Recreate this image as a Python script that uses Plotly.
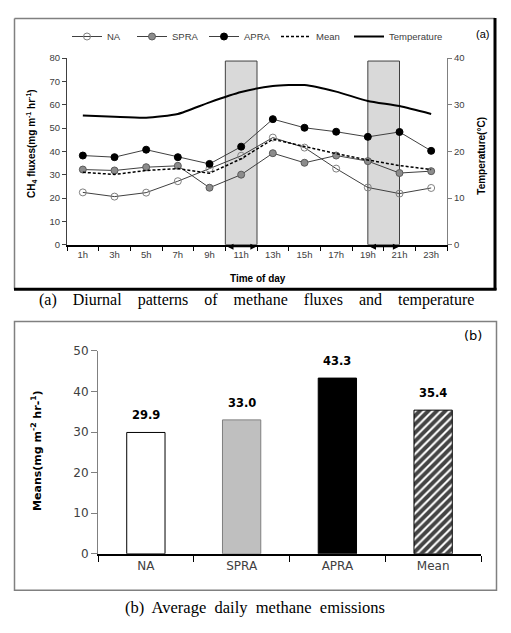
import plotly.graph_objects as go

# ---------------- data ----------------
hours = ["1h", "3h", "5h", "7h", "9h", "11h", "13h", "15h", "17h", "19h", "21h", "23h"]
na_flux = [22.4, 20.6, 22.3, 27.2, 32.6, 38.1, 45.9, 41.6, 32.6, 24.5, 21.9, 24.3]
spra_flux = [32.2, 31.8, 33.2, 33.8, 24.4, 30.0, 39.2, 35.1, 38.2, 35.8, 30.7, 31.5]
apra_flux = [38.2, 37.5, 40.7, 37.5, 34.6, 42.0, 53.8, 50.1, 48.4, 46.2, 48.3, 40.2]
mean_flux = [31.0, 30.1, 31.8, 32.6, 30.6, 36.8, 45.2, 42.0, 39.0, 36.3, 33.9, 32.2]
temperature = [27.7, 27.4, 27.2, 28.0, 30.5, 32.7, 34.0, 34.2, 32.8, 30.8, 29.7, 28.0]
shade_windows = [(10, 12), (19, 21)]  # hours

bar_cats = ["NA", "SPRA", "APRA", "Mean"]
bar_vals = [29.9, 33.0, 43.3, 35.4]

# The page body has an 8px margin: size the figure so the page fits the window exactly
OFF = 8
W, H = 511 - 2 * OFF, 633 - 2 * OFF
def px(x):
    return (x - OFF) / W
def py(y):
    return 1 - (y - OFF) / H

SANS = "Liberation Sans, Arial"
DV = "DejaVu Sans, Verdana"
SERIF = "Liberation Serif, Times New Roman, serif"

fig = go.Figure()

line_col = "#404040"
series = [
    ("NA", na_flux, dict(symbol="circle-open", size=7, color="#808080", line=dict(width=1, color="#808080")), "legend"),
    ("SPRA", spra_flux, dict(symbol="circle", size=7, color="#8c8c8c", line=dict(width=1, color="#5a5a5a")), "legend2"),
    ("APRA", apra_flux, dict(symbol="circle", size=7, color="black", line=dict(width=1, color="black")), "legend3"),
]
for name, vals, mk, lg in series:
    fig.add_trace(go.Scatter(x=hours, y=vals, name=name, mode="lines+markers",
                             line=dict(color=line_col, width=1), marker=mk,
                             xaxis="x", yaxis="y", legend=lg))
fig.add_trace(go.Scatter(x=hours, y=mean_flux, name="Mean", mode="lines",
                         line=dict(color="black", width=1.5, dash="3px,2px"),
                         xaxis="x", yaxis="y", legend="legend4"))
fig.add_trace(go.Scatter(x=hours, y=temperature, name="Temperature", mode="lines",
                         line=dict(color="black", width=2, shape="spline", smoothing=0.6),
                         xaxis="x", yaxis="y2", legend="legend5"))

# bar chart
fig.add_trace(go.Bar(x=bar_cats, y=bar_vals, width=0.4, showlegend=False,
                     marker=dict(color=["white", "#bfbfbf", "black", "white"],
                                 line=dict(color=["black", "#7f7f7f", "black", "black"], width=1),
                                 pattern=dict(shape=["", "", "", "/"], fgcolor="black", fgopacity=1,
                                              bgcolor="white", size=6, solidity=0.65)),
                     xaxis="x2", yaxis="y3"))

shapes = []
annotations = []
# shaded windows
for h0, h1 in shade_windows:
    i0 = (h0 - 1) / 2
    i1 = (h1 - 1) / 2
    shapes.append(dict(type="rect", xref="x", yref="y", x0=i0, x1=i1, y0=0, y1=78.7,
                       fillcolor="#d9d9d9", line=dict(color="#404040", width=1), layer="below"))
    annotations.append(dict(xref="x", yref="y", axref="x", ayref="y", x=i1 - 0.02, y=0, ax=i0 + 0.02, ay=0,
                            text="", showarrow=True, arrowhead=2, arrowside="end+start",
                            arrowsize=1, arrowwidth=1.2, arrowcolor="black", yshift=-2))

# panel frames
shapes += [
    dict(type="line", xref="paper", yref="paper", x0=px(14.5), x1=px(495), y0=py(11.5), y1=py(11.5),
         line=dict(color="#808080", width=1.5)),
    dict(type="line", xref="paper", yref="paper", x0=px(14.5), x1=px(14.5), y0=py(11.5), y1=py(288.5),
         line=dict(color="#808080", width=1.5)),
    dict(type="line", xref="paper", yref="paper", x0=px(495), x1=px(495), y0=py(11), y1=py(289.5),
         line=dict(color="black", width=3)),
    dict(type="line", xref="paper", yref="paper", x0=px(14), x1=px(496.5), y0=py(288.5), y1=py(288.5),
         line=dict(color="black", width=3)),
    dict(type="rect", xref="paper", yref="paper", x0=px(14.5), x1=px(496.5), y0=py(321.5), y1=py(596.5),
         line=dict(color="#808080", width=1.5)),
]

for c, v in zip(bar_cats, bar_vals):
    annotations.append(dict(xref="x2", yref="y3", x=c, y=v, text=f"<b>{v:.1f}</b>", showarrow=False,
                            xanchor="center", yanchor="bottom", yshift=8,
                            font=dict(family=DV, size=11.5, color="black")))

def label(x, y, text, font, angle=0):
    return dict(xref="paper", yref="paper", x=px(x), y=py(y), text=text, showarrow=False,
                xanchor="center", yanchor="middle", textangle=angle, font=font)

annotations += [
    label(31, 140, "<b>CH<sub>4</sub> fluxes(mg m<sup>-1</sup> hr<sup>-1</sup>)</b>",
          dict(family=SANS, size=10, color="black"), -90),
    label(482, 152, "<b>Temperature(°C)</b>", dict(family=SANS, size=10, color="black"), -90),
    label(258, 278, "<b>Time of day</b>", dict(family=SANS, size=10, color="black")),
    label(482, 27, "(a)", dict(family=SANS, size=11, color="black")),
    label(473, 336, "(b)", dict(family=DV, size=13, color="black")),
    label(37, 454, "<b>Means(mg m<sup>-2</sup> hr-<sup>1</sup>)</b>", dict(family=DV, size=11, color="black"), -90),
    label(256, 300, "(a)\u00a0\u00a0\u00a0 Diurnal\u00a0\u00a0\u00a0 patterns\u00a0\u00a0\u00a0 of\u00a0\u00a0\u00a0 methane\u00a0\u00a0\u00a0 fluxes\u00a0\u00a0\u00a0 and\u00a0\u00a0\u00a0 temperature",
          dict(family=SERIF, size=16, color="black")),
    label(255, 614, "(b)\u00a0 Average\u00a0 daily\u00a0 methane\u00a0 emissions",
          dict(family=SERIF, size=16.5, color="black")),
]

legend_font = dict(family=SANS, size=9.5, color="#404040")
leg_text_x = [107, 172, 244, 316, 389]
legends = {}
for i, tx in enumerate(leg_text_x):
    key = "legend" if i == 0 else f"legend{i+1}"
    legends[key] = dict(x=px(tx - 40), y=py(30), xanchor="left", yanchor="middle",
                        orientation="h", font=legend_font, bgcolor="rgba(0,0,0,0)",
                        borderwidth=0, itemwidth=30, tracegroupgap=0)

tick_font_top = dict(family=SANS, size=9.5, color="#404040")
tick_font_bot = dict(family=DV, size=12, color="#404040")

fig.update_layout(
    width=W, height=H, margin=dict(l=0, r=0, t=0, b=0),
    paper_bgcolor="white", plot_bgcolor="white",
    showlegend=True,
    shapes=shapes, annotations=annotations,
    xaxis=dict(domain=[px(67), px(447)], anchor="y", type="category", range=[-0.5, 11.5],
               tickson="boundaries", ticks="outside", ticklen=5, tickcolor="black",
               showline=True, linecolor="black", linewidth=1.5, showgrid=False,
               tickfont=tick_font_top, zeroline=False),
    yaxis=dict(domain=[py(243), py(52)], anchor="x", range=[0, 80], dtick=10,
               ticks="outside", ticklen=4, tickcolor="#404040", showline=True,
               linecolor="#404040", linewidth=1, showgrid=False, zeroline=False,
               tickfont=tick_font_top),
    yaxis2=dict(overlaying="y", side="right", anchor="x", range=[0, 40], dtick=10,
                ticks="outside", ticklen=4, tickcolor="#808080", showline=True,
                linecolor="#808080", linewidth=1, showgrid=False, zeroline=False,
                tickfont=tick_font_top),
    xaxis2=dict(domain=[px(98), px(481)], anchor="y3", type="category", range=[-0.5, 3.5],
                tickson="boundaries", ticks="outside", ticklen=6, tickcolor="black",
                showline=True, linecolor="black", linewidth=1.5, showgrid=False,
                tickfont=tick_font_bot),
    yaxis3=dict(domain=[py(559.3), py(351.7)], anchor="x2", range=[0, 50], dtick=10,
                ticks="outside", ticklen=6, tickcolor="#808080", showline=True,
                linecolor="#808080", linewidth=1, showgrid=False, zeroline=False,
                tickfont=tick_font_bot),
    **legends,
)

fig.write_html("out.html")
